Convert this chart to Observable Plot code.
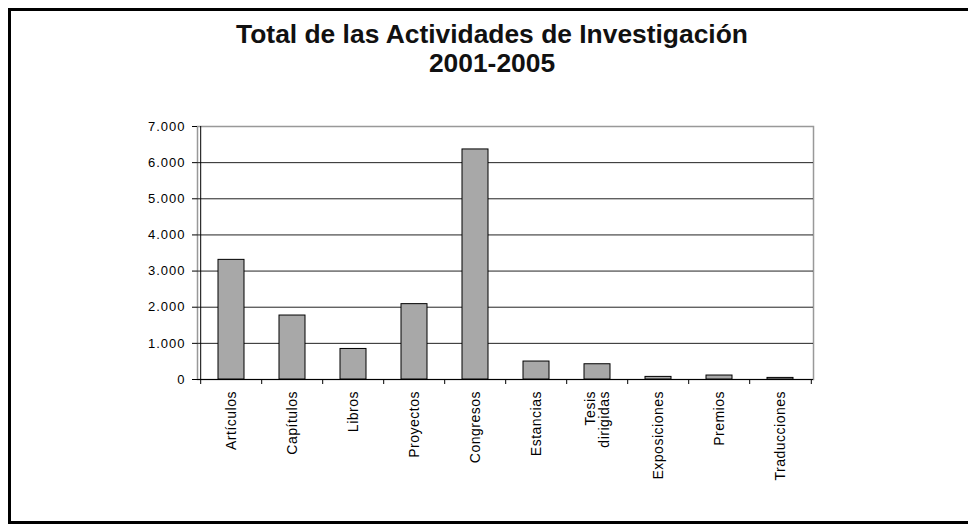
<!DOCTYPE html>
<html>
<head>
<meta charset="utf-8">
<script src="https://cdn.jsdelivr.net/npm/d3@7"></script>
<script src="https://cdn.jsdelivr.net/npm/@observablehq/plot@0.6"></script>
<style>
  body { margin: 0; background: #fff; }
  #wrap { position: relative; width: 968px; height: 530px; overflow: hidden; font-family: "Liberation Sans", Arial, sans-serif; background: #fff; }
  #border { position: absolute; left: 8px; top: 8px; width: 1000px; height: 510px; border: 3px solid #000; box-sizing: content-box; }
  #title { position: absolute; left: 0; top: 20px; width: 984px; text-align: center; font-weight: bold; font-size: 26.4px; line-height: 29px; color: #111; }
  #chart { position: absolute; left: 0; top: 0; }
  #chart g[aria-label="x-axis tick label"] text { letter-spacing: 0.5px; }
</style>
</head>
<body>
<div id="wrap">
  <div id="border"></div>
  <div id="chart"></div>
  <div id="title">Total de las Actividades de Investigación<br>2001-2005</div>
</div>
<script>
const categories = ["Artículos", "Capítulos", "Libros", "Proyectos", "Congresos", "Estancias", "Tesis\ndirigidas", "Exposiciones", "Premios", "Traducciones"];
const values = [3310, 1770, 845, 2085, 6365, 497, 422, 72, 110, 44];
const yTicks = [0, 1000, 2000, 3000, 4000, 5000, 6000, 7000];

const data = categories.map((c, i) => ({cat: c, value: values[i]}));

const mL = 197, mR = 155, W = 968;
const step = (W - mL - mR) / categories.length;

const locale = d3.formatLocale({decimal: ",", thousands: ".", grouping: [3], currency: ["", ""]});
const fmt = locale.format(",");

const chart = Plot.plot({
  width: W,
  height: 530,
  marginLeft: mL,
  marginRight: mR,
  marginTop: 126,
  marginBottom: 151,
  style: {fontFamily: "'Liberation Sans', Arial, sans-serif", letterSpacing: "1px", color: "#000", background: "transparent"},
  x: {domain: categories, paddingInner: 0.58, paddingOuter: 0.29, axis: null},
  y: {domain: [0, 7000], axis: null},
  marks: [
    Plot.frame({stroke: "#999", strokeWidth: 1.5}),
    Plot.ruleY(yTicks.filter(d => d > 0 && d < 7000), {stroke: "#222", strokeWidth: 1}),
    Plot.barY(data, {x: "cat", y: "value", fill: "#a8a8a8", stroke: "#000", strokeWidth: 1}),
    Plot.ruleY([0], {stroke: "#000", strokeWidth: 1}),
    Plot.ruleX([categories[0]], {stroke: "#000", strokeWidth: 1, dx: -step / 2}),
    Plot.ruleX(categories, {y1: 0, y2: 0, insetBottom: -5, stroke: "#000", strokeWidth: 1, dx: -step / 2}),
    Plot.ruleX([categories[categories.length - 1]], {y1: 0, y2: 0, insetBottom: -5, stroke: "#000", strokeWidth: 1, dx: step / 2}),
    Plot.axisY({ticks: yTicks, tickFormat: d => fmt(d), tickSize: 5, tickPadding: 7, fontSize: 13, stroke: "#000", strokeOpacity: 1, label: null}),
    Plot.axisX({tickRotate: -90, tickSize: 0, tickPadding: 11.5, fontSize: 14, label: null})
  ]
});
document.getElementById("chart").appendChild(chart);
</script>
</body>
</html>
